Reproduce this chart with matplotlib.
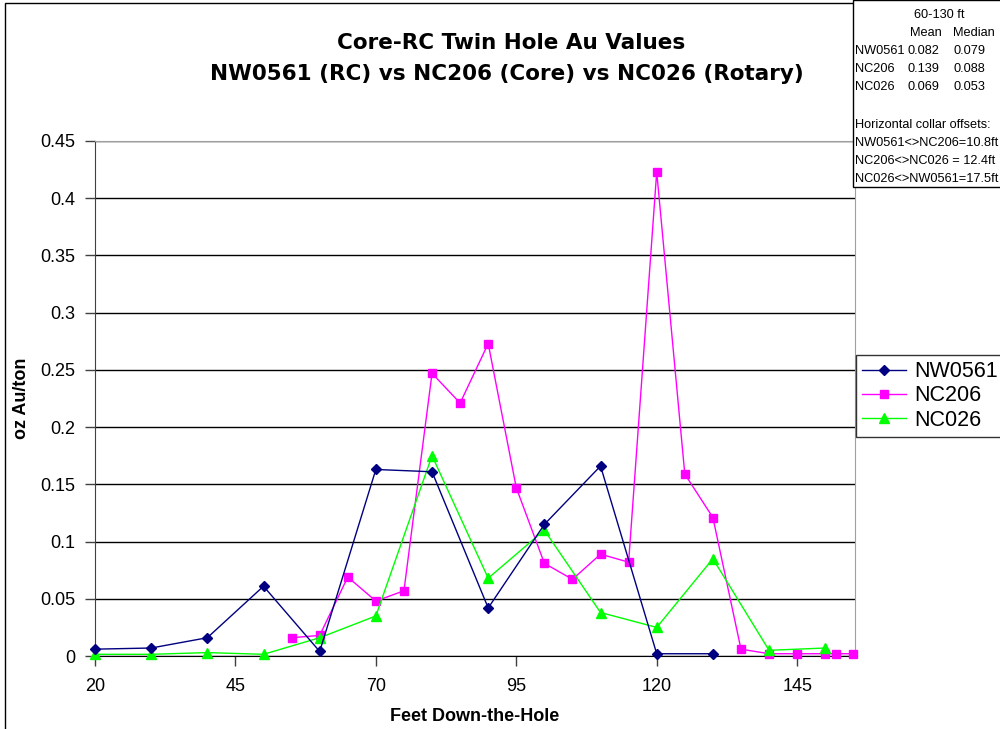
import numpy as np
import matplotlib
matplotlib.use("Agg")
import matplotlib.pyplot as plt
from matplotlib.patches import Rectangle

plt.rcParams['font.family'] = ['Liberation Sans', 'DejaVu Sans']

# assay intervals (feet down the hole) and grades (oz Au/ton)
nw_depth = [20, 30, 40, 50, 60, 70, 80, 90, 100, 110, 120, 130]
nw_grade = [0.006, 0.007, 0.016, 0.061, 0.004, 0.163, 0.161, 0.042, 0.115, 0.166, 0.002, 0.002]

nc206_depth = [55, 60, 65, 70, 75, 80, 85, 90, 95, 100, 105, 110, 115, 120, 125, 130,
               135, 140, 145, 150, 152, 155]
nc206_grade = [0.016, 0.018, 0.069, 0.048, 0.057, 0.247, 0.221, 0.273, 0.147, 0.081, 0.067,
               0.089, 0.082, 0.423, 0.159, 0.121, 0.006, 0.002, 0.002, 0.002, 0.002, 0.002]

nc026_depth = [20, 30, 40, 50, 60, 70, 80, 90, 100, 110, 120, 130, 140, 150]
nc026_grade = [0.0015, 0.0015, 0.003, 0.0015, 0.016, 0.035, 0.175, 0.068, 0.11, 0.038,
               0.025, 0.085, 0.005, 0.007]

stats_rows = [("NW0561", "0.082", "0.079"),
              ("NC206", "0.139", "0.088"),
              ("NC026", "0.069", "0.053")]
offsets = ["NW0561<>NC206=10.8ft",
           "NC206<>NC026 = 12.4ft",
           "NC026<>NW0561=17.5ft"]

fig = plt.figure(figsize=(10, 7.29), dpi=100)
ax = fig.add_axes([0.095, 0.1001, 0.76, 0.7065])

ax.plot(nw_depth, nw_grade, color='#000080', lw=1, marker='D', ms=5,
        label='NW0561', clip_on=False, zorder=4)
ax.plot(nc206_depth, nc206_grade, color='#FF00FF', lw=1, marker='s', ms=5.5,
        label='NC206', clip_on=False, zorder=3)
ax.plot(nc026_depth, nc026_grade, color='#00FF00', lw=1, marker='^', ms=7,
        label='NC026', clip_on=False, zorder=3)

ax.set_xlim(20, 155.3)
ax.set_ylim(0, 0.45)
ax.set_xticks([20, 45, 70, 95, 120, 145])
ax.set_yticks(np.arange(0, 0.451, 0.05))
ax.set_yticklabels(['0', '0.05', '0.1', '0.15', '0.2', '0.25', '0.3', '0.35', '0.4', '0.45'])
ax.yaxis.grid(True, color='black', lw=1)
ax.set_axisbelow(True)
ax.tick_params(labelsize=13, direction='out', length=7, width=1, color='#404040')
ax.tick_params(axis='x', pad=9)
ax.tick_params(axis='y', pad=7)

ax.spines['left'].set_color('#404040')
ax.spines['bottom'].set_color('black')
ax.spines['top'].set_color('#a0a0a0')
ax.spines['right'].set_color('#a0a0a0')

fig.text(0.4745, 0.017, 'Feet Down-the-Hole', ha='center', va='center',
         fontsize=13, fontweight='bold')
fig.text(0.022, 0.454, 'oz Au/ton', ha='center', va='center', rotation=90,
         fontsize=13, fontweight='bold')

fig.text(0.511, 0.9415, 'Core-RC Twin Hole Au Values', ha='center', va='center',
         fontsize=15.5, fontweight='bold', family='DejaVu Sans')
fig.text(0.507, 0.898, 'NW0561 (RC) vs NC206 (Core) vs NC026 (Rotary)', ha='center',
         va='center', fontsize=15.5, fontweight='bold', family='DejaVu Sans')

leg = ax.legend(loc='center left', bbox_to_anchor=(0.856, 0.457),
                bbox_transform=fig.transFigure, fontsize=15.5, frameon=True,
                fancybox=False, edgecolor='black', borderpad=0.3, handlelength=2.0,
                handletextpad=0.4, labelspacing=0.15, borderaxespad=0)
leg.get_frame().set_linewidth(1)

# outer chart border
fig.add_artist(Rectangle((0.005, -0.01), 1.2, 1.006, transform=fig.transFigure,
                         fill=False, edgecolor='black', lw=1))

# summary box in the top right corner
fig.add_artist(Rectangle((0.853, 0.744), 0.2, 0.256, transform=fig.transFigure,
                         facecolor='white', edgecolor='black', lw=1, zorder=5))
fs = 9.2
fig.text(0.939, 0.979, '60-130 ft', ha='center', va='center', fontsize=fs, zorder=6)
fig.text(0.910, 0.955, 'Mean', ha='left', va='center', fontsize=fs, zorder=6)
fig.text(0.953, 0.955, 'Median', ha='left', va='center', fontsize=fs, zorder=6)
for i, (name, mean, med) in enumerate(stats_rows):
    y = 0.930 - i * 0.0247
    fig.text(0.855, y, name, ha='left', va='center', fontsize=fs, zorder=6)
    fig.text(0.908, y, mean, ha='left', va='center', fontsize=fs, zorder=6)
    fig.text(0.953, y, med, ha='left', va='center', fontsize=fs, zorder=6)
fig.text(0.855, 0.829, 'Horizontal collar offsets:', ha='left', va='center',
         fontsize=fs, zorder=6)
for i, s in enumerate(offsets):
    fig.text(0.855, 0.804 - i * 0.0247, s, ha='left', va='center', fontsize=fs, zorder=6)

fig.savefig('out.png', dpi=100)
